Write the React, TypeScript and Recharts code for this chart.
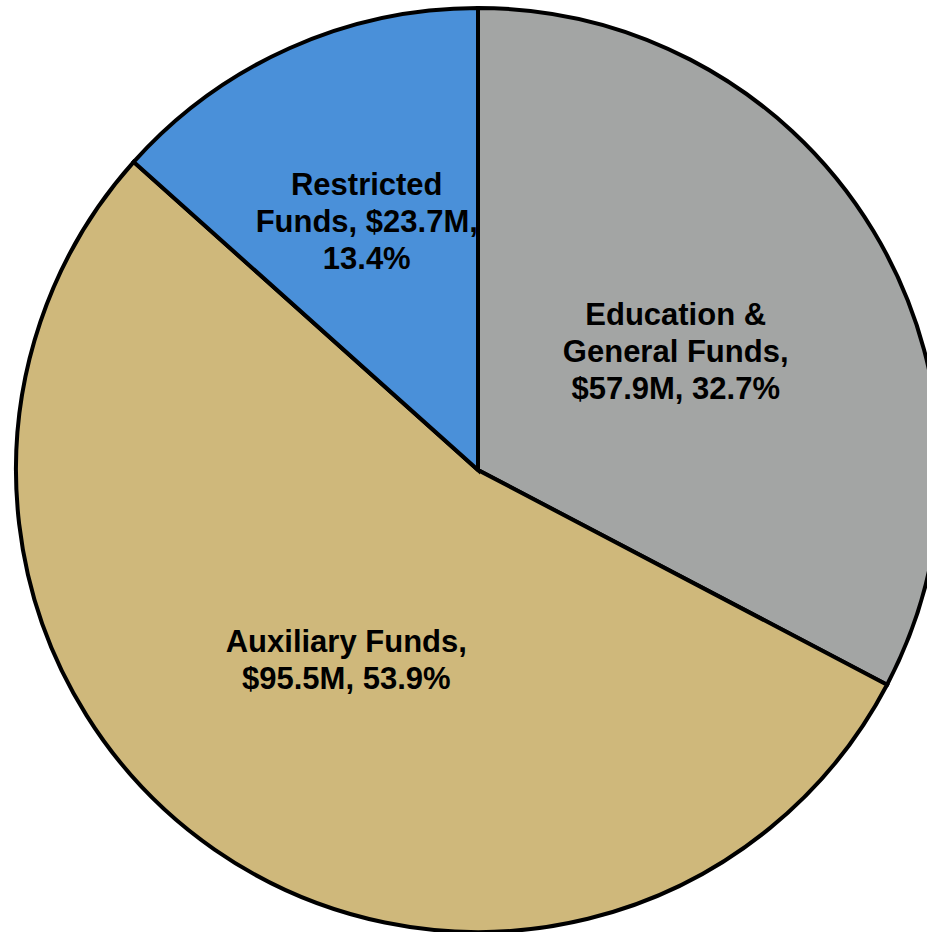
// @ts-nocheck
import { PieChart, Pie, Cell } from 'recharts';

const funds = ['Education & General Funds', 'Auxiliary Funds', 'Restricted Funds'];
const amounts = [57.9, 95.5, 23.7];
const shares = [32.7, 53.9, 13.4];
const labelLines = [
  ['Education &', 'General Funds,', '$57.9M, 32.7%'],
  ['Auxiliary Funds,', '$95.5M, 53.9%'],
  ['Restricted', 'Funds, $23.7M,', '13.4%'],
];
const colors = ['#a3a5a4', '#cfb87b', '#4a90d9'];

const data = funds.map((name, i) => ({ name, value: amounts[i], share: shares[i] }));

// how far out from the centre each label sits
const labelPos = [0.5, 0.5, 0.59];

const RADIAN = Math.PI / 180;

function SliceLabel({ cx, cy, midAngle, outerRadius, index }) {
  const r = outerRadius * labelPos[index];
  const x = cx + r * Math.cos(-midAngle * RADIAN);
  const y = cy + r * Math.sin(-midAngle * RADIAN);
  const lines = labelLines[index];
  const lh = 37;
  const top = y - ((lines.length - 1) * lh) / 2;
  return (
    <text
      x={x}
      y={top}
      textAnchor="middle"
      dominantBaseline="central"
      fill="#000"
      style={{ fontFamily: 'Liberation Sans, Arial, sans-serif', fontWeight: 'bold', fontSize: 31 }}
    >
      {lines.map((l, i) => (
        <tspan key={i} x={x} y={top + i * lh}>{l}</tspan>
      ))}
    </text>
  );
}

export default function App() {
  return (
    <div style={{ position: 'absolute', left: 0, top: 0, width: 927, height: 932, background: '#fff' }}>
      <PieChart width={927} height={932} margin={{ top: 0, right: 0, bottom: 0, left: 0 }}>
        <Pie
          data={data}
          dataKey="value"
          nameKey="name"
          cx={478}
          cy={470}
          outerRadius={462}
          startAngle={90}
          endAngle={-270}
          stroke="#000"
          strokeWidth={4}
          label={SliceLabel}
          labelLine={false}
          isAnimationActive={false}
        >
          {data.map((d, i) => (
            <Cell key={d.name} fill={colors[i]} />
          ))}
        </Pie>
      </PieChart>
    </div>
  );
}
